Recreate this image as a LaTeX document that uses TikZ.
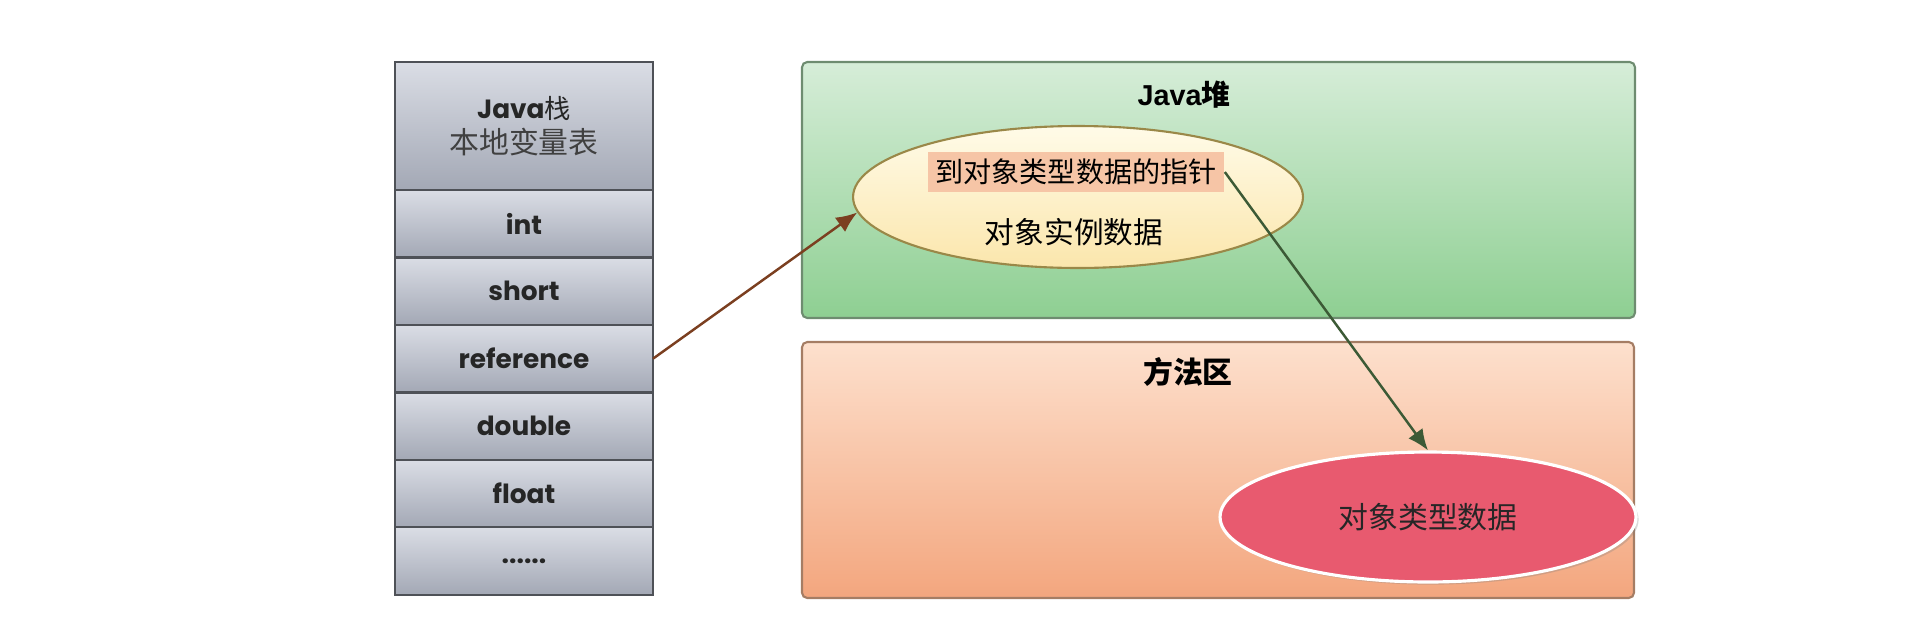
\documentclass[tikz,border=0pt]{standalone}
\usepackage{fontspec}
\setmainfont{Liberation Sans}
\newfontfamily\cjk{Noto Sans CJK SC}
\newfontfamily\roundfont{Poppins}
\usetikzlibrary{positioning,shapes.geometric,shadows,arrows.meta}

\definecolor{cellTop}{HTML}{DADDE5}
\definecolor{cellBot}{HTML}{A3A8B5}
\definecolor{cellLine}{HTML}{4E5157}
\definecolor{heapTop}{HTML}{D6EDD8}
\definecolor{heapBot}{HTML}{8ECF92}
\definecolor{heapLine}{HTML}{6E8C70}
\definecolor{methTop}{HTML}{FDE0CD}
\definecolor{methBot}{HTML}{F3A67E}
\definecolor{methLine}{HTML}{A57D64}
\definecolor{objTop}{HTML}{FFFBE8}
\definecolor{objBot}{HTML}{FBE6AC}
\definecolor{objLine}{HTML}{9A8848}
\definecolor{ptrFill}{HTML}{F6C5A6}
\definecolor{klassFill}{HTML}{E85A6F}
\definecolor{refArrow}{HTML}{7B3F20}
\definecolor{ptrArrow}{HTML}{3C5A36}

\tikzset{
  cell/.style={draw=cellLine, line width=1.2pt, top color=cellTop, bottom color=cellBot,
    minimum width=5.16cm, minimum height=1.35cm, inner sep=0pt, outer sep=0pt,
    font=\roundfont\bfseries\fontsize{15pt}{18pt}\selectfont, text=black!85},
  area/.style={line width=1.2pt, rounded corners=3pt},
  title/.style={font=\bfseries\fontsize{16.4pt}{19pt}\selectfont},
}

\begin{document}
\begin{tikzpicture}[x=0.02cm, y=-0.02cm]
    \useasboundingbox (0,0) rectangle (1920,616);
    % Java stack
    \node[cell, minimum height=2.56cm, align=center] (head) at (524,126)
        {{\roundfont\bfseries Java}{\cjk\mdseries 栈}\\[2pt]{\cjk\mdseries\fontsize{17pt}{20pt}\selectfont\color{black!75}本地变量表}};
    \node[cell, below=0pt of head] (int) {int};
    \node[cell, below=0pt of int] (short) {short};
    \node[cell, below=0pt of short] (ref) {reference};
    \node[cell, below=0pt of ref] (double) {double};
    \node[cell, below=0pt of double] (float) {float};
    \node[cell, below=0pt of float] (more) {......};
    % heap and method area
    \draw[area, draw=heapLine, top color=heapTop, bottom color=heapBot] (802,62) rectangle (1635,318);
    \draw[area, draw=methLine, top color=methTop, bottom color=methBot] (802,342) rectangle (1634,598);
    \node[title] (heap) at (1184,95) {Java{\cjk 堆}};
    \node[title, font=\cjk\bfseries\fontsize{17pt}{20pt}\selectfont] (meth) at (1188,372) {方法区};
    % object in heap
    \node[ellipse, draw=objLine, line width=1.2pt, top color=objTop, bottom color=objBot,
        minimum width=9cm, minimum height=2.84cm] (obj) at (1078,197) {};
    \node[fill=ptrFill, minimum width=5.94cm, minimum height=0.8cm, inner sep=0pt,
        font=\cjk\fontsize{16pt}{19pt}\selectfont] (ptr) at (1076,172) {到对象类型数据的指针};
    \node[font=\cjk\fontsize{16.9pt}{20pt}\selectfont] (inst) at (1074,232) {对象实例数据};
    % type data in method area
    \node[ellipse, draw=white, line width=1.8pt, fill=klassFill,
        drop shadow={opacity=0.3, shadow xshift=1.5pt, shadow yshift=-1.5pt},
        minimum width=8.32cm, minimum height=2.6cm,
        font=\cjk\fontsize{17pt}{20pt}\selectfont, text=black!85] (klass) at (1428,517) {对象类型数据};
    % pointers
    \draw[refArrow, line width=1.4pt, -{Latex[length=12pt,width=10pt]}] (ref.east) -- (obj.184);
    \draw[ptrArrow, line width=1.4pt, -{Latex[length=12pt,width=10pt]}] (ptr.east) -- (klass.north);
\end{tikzpicture}
\end{document}
